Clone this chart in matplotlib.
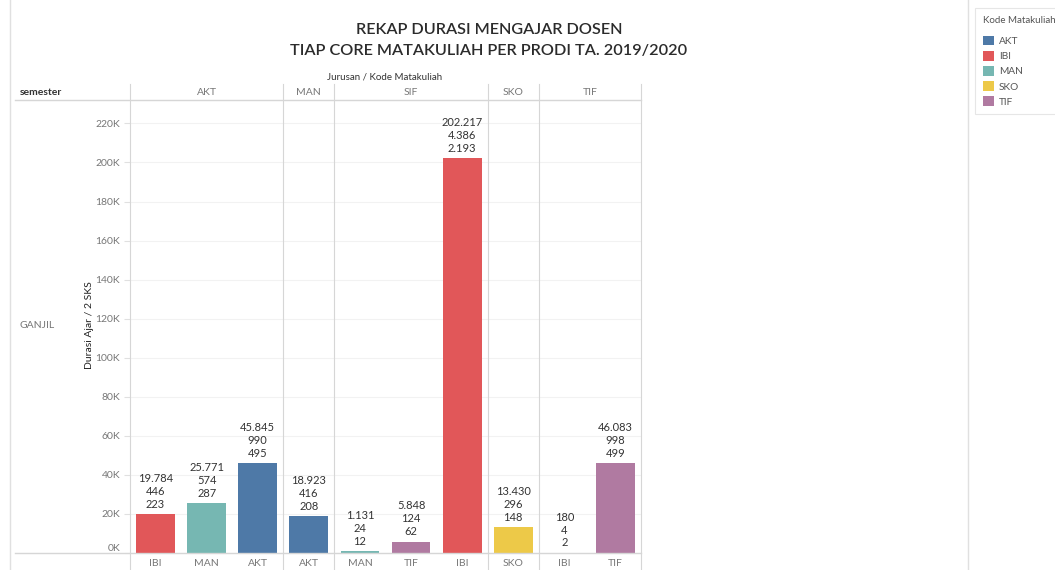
import matplotlib.pyplot as plt
from matplotlib.patches import Patch
from matplotlib.transforms import blended_transform_factory

plt.rcParams['font.family'] = ['Lato', 'DejaVu Sans']

# data
jurusan = ['AKT', 'MAN', 'SIF', 'SKO', 'TIF']
pane_sizes = [3, 1, 3, 1, 2]
kode = ['IBI', 'MAN', 'AKT', 'AKT', 'MAN', 'TIF', 'IBI', 'SKO', 'IBI', 'TIF']
durasi = [19784, 25771, 45845, 18923, 1131, 5848, 202217, 13430, 180, 46083]
label_mid = [446, 574, 990, 416, 24, 124, 4386, 296, 4, 998]
label_low = [223, 287, 495, 208, 12, 62, 2193, 148, 2, 499]

colors = {'AKT': '#4e79a7', 'IBI': '#e15759', 'MAN': '#76b7b2',
          'SKO': '#edc948', 'TIF': '#b07aa1'}

W, H = 1055, 570
fig = plt.figure(figsize=(W / 100, H / 100), dpi=100)


def fx(px):
    return px / W


def fy(py):
    return 1 - py / H


# plot area in pixels
left, right, top, bottom = 130, 641, 100, 553
ax = fig.add_axes([fx(left), fy(bottom), fx(right - left), (bottom - top) / H])

xs = list(range(len(kode)))
ax.bar(xs, durasi, width=0.76, color=[colors[k] for k in kode], zorder=3)
ax.set_xlim(-0.5, len(kode) - 0.5)
ax.set_ylim(0, 232000)


def fmt(v):
    return f'{v:,}'.replace(',', '.')


for x, v, m, l in zip(xs, durasi, label_mid, label_low):
    ax.annotate(f'{fmt(v)}\n{fmt(m)}\n{fmt(l)}', (x, v), xytext=(0, 3),
                textcoords='offset points', ha='center', va='bottom',
                fontsize=8, color='#333333', linespacing=1.22)

yt = list(range(0, 220001, 20000))
ax.set_yticks(yt)
ax.set_yticklabels([f'{t // 1000}K' for t in yt])
ax.set_xticks(xs)
ax.set_xticklabels(kode)
ax.tick_params(axis='y', length=4, color='#e0e0e0', labelcolor='#777777', labelsize=7.5, pad=3)
ax.tick_params(axis='x', length=0, labelcolor='#777777', labelsize=7.5, pad=4)
ax.get_yticklabels()[0].set_verticalalignment('bottom')
ax.grid(axis='y', color='#f2f2f2', linewidth=0.8, zorder=0)
for s in ax.spines.values():
    s.set_visible(False)

# separators between panes
trans = blended_transform_factory(ax.transData, fig.transFigure)
bounds = [-0.5]
for n in pane_sizes:
    bounds.append(bounds[-1] + n)
for b in bounds:
    ax.plot([b, b], [fy(84), 0], transform=trans, color='#d6d6d6', lw=0.8, clip_on=False)

# pane headers
for i, j in enumerate(jurusan):
    c = (bounds[i] + bounds[i + 1]) / 2
    ax.text(c, fy(92), j, transform=trans, ha='center', va='center',
            fontsize=7.5, color='#777777')

# horizontal rules
for py in (top, bottom):
    fig.add_artist(plt.Line2D([fx(15), fx(right)], [fy(py), fy(py)], color='#d6d6d6', lw=1))

# outer borders
fig.add_artist(plt.Line2D([fx(10), fx(10)], [0, 1], color='#e0e0e0', lw=1))
fig.add_artist(plt.Line2D([fx(968), fx(968)], [0, 1], color='#e0e0e0', lw=1))

# titles and labels
fig.text(fx(489), fy(30), 'REKAP DURASI MENGAJAR DOSEN', ha='center', va='center',
         fontsize=11.7, color='#2b2b2b', fontweight='semibold')
fig.text(fx(489), fy(51), 'TIAP CORE MATAKULIAH PER PRODI TA. 2019/2020', ha='center',
         va='center', fontsize=11.7, color='#2b2b2b', fontweight='semibold')
fig.text(fx(385), fy(77), 'Jurusan / Kode Matakuliah', ha='center', va='center',
         fontsize=7, color='#333333')
fig.text(fx(20), fy(92), 'semester', ha='left', va='center', fontsize=7.5,
         color='#333333', fontweight='bold')
fig.text(fx(20), fy(325), 'GANJIL', ha='left', va='center', fontsize=7.5, color='#777777')
fig.text(fx(90), fy(325), 'Durasi Ajar / 2 SKS', ha='center', va='center', rotation=90,
         fontsize=7.5, color='#222222')

# legend
handles = [Patch(facecolor=colors[k], label=k) for k in ['AKT', 'IBI', 'MAN', 'SKO', 'TIF']]
leg = fig.legend(handles=handles, title='Kode Matakuliah', loc='upper left',
                 bbox_to_anchor=(fx(975), fy(8)), borderaxespad=0, frameon=True,
                 fancybox=False, fontsize=7.3, title_fontsize=7, handlelength=1.1,
                 handleheight=1.1, handletextpad=0.5, labelspacing=0.48, borderpad=0.75,
                 alignment='left', labelcolor='#555555')
leg._legend_box.sep = 8
leg.get_frame().set_edgecolor('#e0e0e0')
leg.get_frame().set_linewidth(0.8)
leg.get_title().set_color('#555555')

fig.savefig('out.png', dpi=100, facecolor='white')
